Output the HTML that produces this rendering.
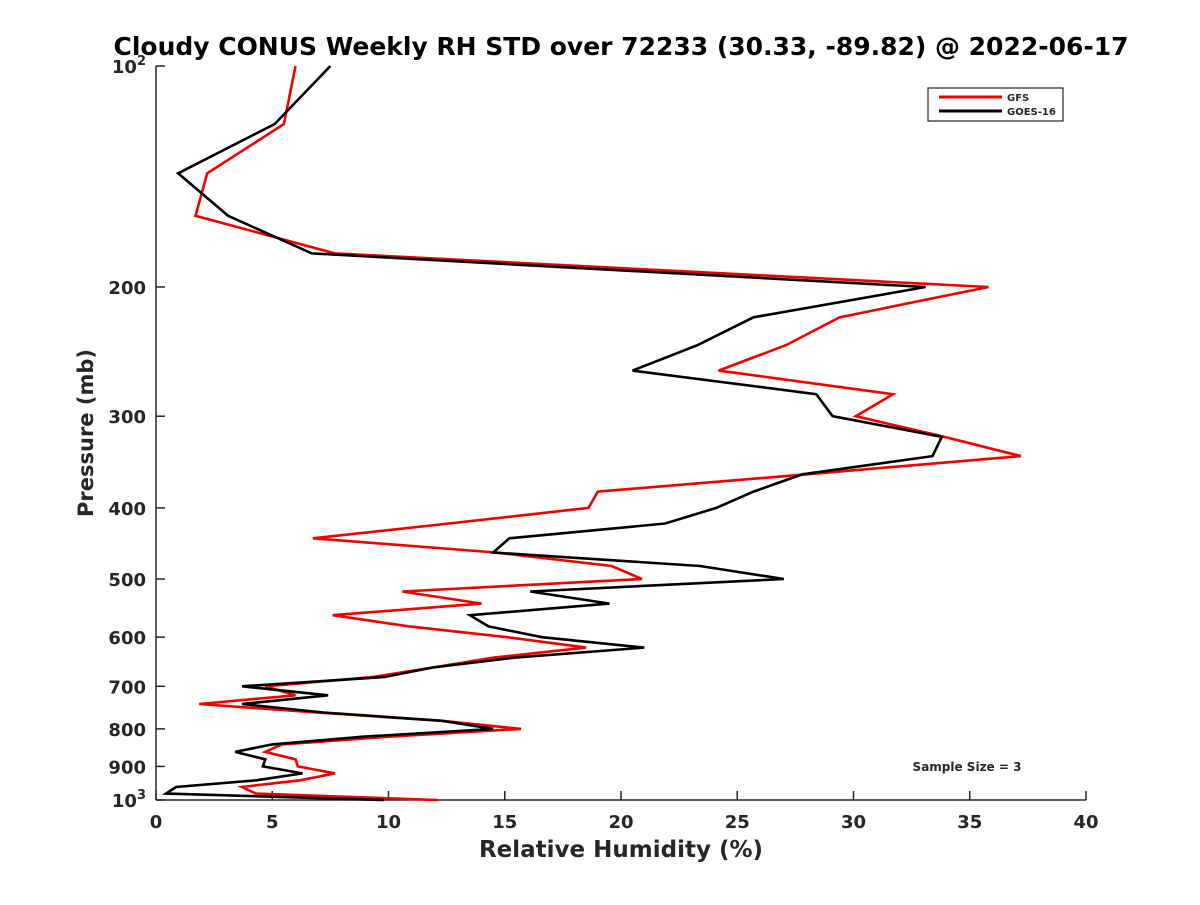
<!DOCTYPE html>
<html><head><meta charset="utf-8"><style>
body{margin:0;background:#fff}
svg text{font-family:"DejaVu Sans","Liberation Sans",sans-serif;font-weight:bold;fill:#262626}
</style></head><body>
<svg width="1200" height="900" viewBox="0 0 1200 900">
<rect width="1200" height="900" fill="#fff"/>
<text x="621" y="55" font-size="25" text-anchor="middle" textLength="1015" lengthAdjust="spacingAndGlyphs" style="fill:#000">Cloudy CONUS Weekly RH STD over 72233 (30.33, -89.82) @ 2022-06-17</text>
<g id="axes"></g>
<g id="series"></g>
<g>
<rect x="928" y="88" width="135" height="33" fill="#fff" stroke="#262626" stroke-width="1.2"/>
<line x1="939" y1="97" x2="1002" y2="97" stroke="#e00" stroke-width="3"/>
<text x="1007" y="101" font-size="10">GFS</text>
<line x1="939" y1="111" x2="1002" y2="111" stroke="#000" stroke-width="3"/>
<text x="1007" y="115" font-size="10">GOES-16</text>
</g>
<text x="967" y="771" font-size="12" text-anchor="middle">Sample Size = 3</text>
<text x="621" y="857" font-size="23" text-anchor="middle">Relative Humidity (%)</text>
<text transform="translate(93,433) rotate(-90)" font-size="21" text-anchor="middle">Pressure (mb)</text>
</svg>
<script>
const pressure=[100,120,140,160,180,200,220,240,260,280,300,320,340,360,380,400,420,440,460,480,500,520,540,560,580,600,620,640,660,680,700,720,740,760,780,800,820,840,860,880,900,920,940,960,980,1000];
const gfs=[6.0,5.5,2.2,1.7,7.7,35.8,29.4,27.1,24.2,31.7,30.1,33.9,37.2,28.0,19.0,18.6,12.6,6.75,14.6,19.6,20.9,10.6,14.0,7.6,10.9,15.1,18.5,14.5,11.9,9.3,4.7,6.0,1.86,6.9,12.3,15.7,10.0,5.4,4.7,6.0,6.1,7.7,6.2,3.7,4.3,12.1];
const goes=[7.5,5.1,0.95,3.1,6.7,33.1,25.7,23.3,20.5,28.4,29.1,33.8,33.4,27.8,25.7,24.1,21.9,15.2,14.5,23.4,27.0,16.1,19.5,13.5,14.3,16.6,21.0,15.4,11.9,9.8,3.7,7.4,3.7,7.2,12.3,14.5,8.9,5.0,3.4,4.7,4.6,6.3,4.3,0.86,0.43,9.8];
const xTicks=[0,5,10,15,20,25,30,35,40];
const yTicks=[100,200,300,400,500,600,700,800,900,1000];
const yLabels=["10|2","200","300","400","500","600","700","800","900","10|3"];
const X=v=>156+v*(1086-156)/40;
const Y=p=>66+Math.log10(p/100)*734;
const NS="http://www.w3.org/2000/svg";
const ax=document.getElementById('axes'),se=document.getElementById('series');
function mk(t,a,p){const e=document.createElementNS(NS,t);for(const k in a)e.setAttribute(k,a[k]);p.appendChild(e);return e;}
let e=mk('line',{x1:156,y1:800,x2:1086,y2:800,stroke:'#262626','stroke-width':1.5},ax);


e=mk('line',{x1:156,y1:66,x2:156,y2:800,stroke:'#262626','stroke-width':1.5},ax);


xTicks.forEach(v=>{
 mk('line',{x1:X(v),y1:800,x2:X(v),y2:791,stroke:'#262626','stroke-width':1.5},ax);
 const t=mk('text',{x:X(v),y:828,'font-size':18,'text-anchor':'middle'},ax);t.textContent=v;
 
 
});
yTicks.forEach((p,i)=>{
 mk('line',{x1:156,y1:Y(p),x2:165,y2:Y(p),stroke:'#262626','stroke-width':1.5},ax);
 const t=mk('text',{x:146,y:Y(p)+7,'font-size':18,'text-anchor':'end'},ax);
 const parts=yLabels[i].split('|');
 const b=mk('tspan',{},t);b.textContent=parts[0];
 if(parts[1]){const s=mk('tspan',{dy:-8,'font-size':13},t);s.textContent=parts[1];}
 
 
});
function line(vals,col,name){
 const pts=vals.map((v,i)=>X(v).toFixed(1)+','+Y(pressure[i]).toFixed(1)).join(' ');
 const l=mk('polyline',{points:pts,fill:'none',stroke:col,'stroke-width':2.6,'stroke-linejoin':'miter'},se);
 
 
}
line(gfs,'#e00','gfs-line');
line(goes,'#000','goes16-line');
</script>
</body></html>
